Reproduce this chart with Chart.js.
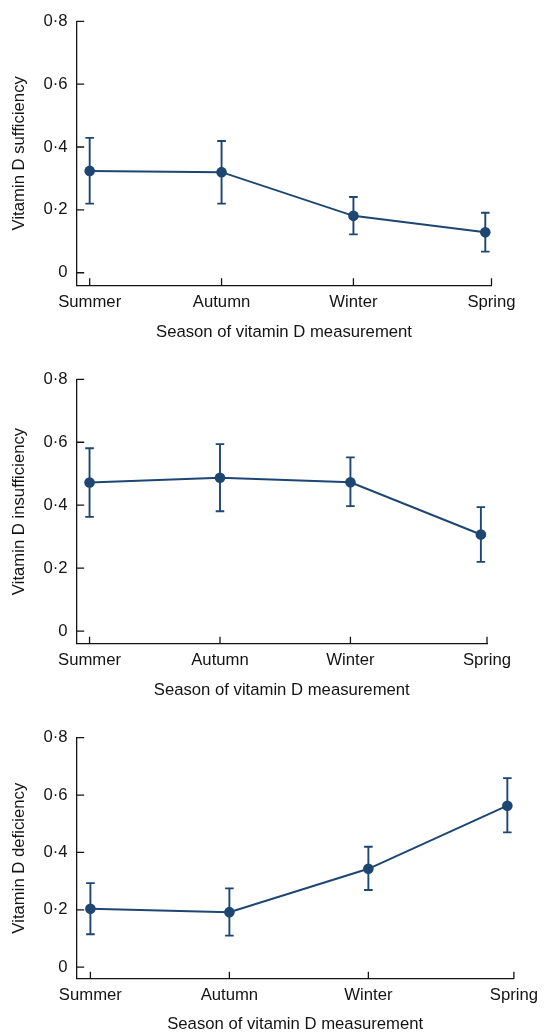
<!DOCTYPE html>
<html><head><meta charset="utf-8">
<script src="https://cdn.jsdelivr.net/npm/chart.js@4.4.1/dist/chart.umd.min.js"></script>
<style>
html,body{margin:0;padding:0;background:#fff;overflow:hidden;width:545px;height:1032px;}
.p{position:absolute;left:0;width:545px;}
</style></head><body>
<div class="p" style="top:0px;height:342px"><canvas id="c1"></canvas></div>
<div class="p" style="top:350px;height:350px"><canvas id="c2"></canvas></div>
<div class="p" style="top:700px;height:334px"><canvas id="c3"></canvas></div>
<script>
const categories = ['Summer', 'Autumn', 'Winter', 'Spring'];
const yTickValues = [0, 0.2, 0.4, 0.6, 0.8];
const yTickLabels = ['0', '0·2', '0·4', '0·6', '0·8'];
const xTitle = 'Season of vitamin D measurement';

const sufficiencyMean  = [0.324, 0.320, 0.181, 0.129];
const sufficiencyLower = [0.220, 0.220, 0.122, 0.067];
const sufficiencyUpper = [0.429, 0.419, 0.241, 0.191];

const insufficiencyMean  = [0.472, 0.487, 0.473, 0.307];
const insufficiencyLower = [0.363, 0.381, 0.397, 0.220];
const insufficiencyUpper = [0.581, 0.594, 0.552, 0.394];

const deficiencyMean  = [0.204, 0.192, 0.343, 0.563];
const deficiencyLower = [0.115, 0.110, 0.269, 0.470];
const deficiencyUpper = [0.293, 0.275, 0.420, 0.659];

const NAVY = '#1d4672';
const INK = '#141414';
const FONT = '"Liberation Sans", Arial, Helvetica, sans-serif';
const FS = 16.7;

const errorBars = {
  id: 'errorBars',
  beforeDatasetsDraw(chart, args, opts) {
    const ctx = chart.ctx, xs = chart.scales.x, ys = chart.scales.y;
    ctx.save();
    ctx.strokeStyle = NAVY; ctx.lineWidth = 1.9;
    opts.lower.forEach((lo, i) => {
      const x = xs.getPixelForValue(i);
      const y1 = ys.getPixelForValue(lo), y2 = ys.getPixelForValue(opts.upper[i]);
      ctx.beginPath();
      ctx.moveTo(x, y1); ctx.lineTo(x, y2);
      ctx.moveTo(x - 4.3, y1); ctx.lineTo(x + 4.3, y1);
      ctx.moveTo(x - 4.3, y2); ctx.lineTo(x + 4.3, y2);
      ctx.stroke();
    });
    ctx.restore();
  }
};

const innerTicks = {
  id: 'innerTicks',
  afterDraw(chart) {
    const ctx = chart.ctx, xs = chart.scales.x, ys = chart.scales.y, a = chart.chartArea;
    ctx.save();
    ctx.strokeStyle = INK; ctx.lineWidth = 1.3;
    ctx.beginPath();
    ys.ticks.forEach(t => { const y = ys.getPixelForValue(t.value); ctx.moveTo(a.left, y); ctx.lineTo(a.left + 7.7, y); });
    xs.ticks.forEach(t => { const x = xs.getPixelForValue(t.value); ctx.moveTo(x, a.bottom); ctx.lineTo(x, a.bottom - 7); });
    ctx.stroke();
    ctx.restore();
  }
};

function makePanel(id, yTitle, mean, lower, upper, lay) {
  new Chart(document.getElementById(id), {
    type: 'line',
    data: { datasets: [{
      data: mean.map((v, i) => ({ x: i, y: v })),
      borderColor: NAVY, backgroundColor: NAVY, borderWidth: 2,
      pointRadius: 5.3, pointHoverRadius: 5.3, pointBorderWidth: 0, tension: 0
    }]},
    options: {
      responsive: true, maintainAspectRatio: false, animation: false,
      events: [],
      layout: { autoPadding: false, padding: { top: lay.top, right: lay.right, left: 0, bottom: 0 } },
      plugins: { legend: { display: false }, tooltip: { enabled: false },
        errorBars: { lower, upper } },
      scales: {
        x: {
          type: 'linear', min: -0.1, max: 3.047,
          afterFit: s => { s.height = lay.xh; },
          afterBuildTicks: s => { s.ticks = categories.map((c, i) => ({ value: i === categories.length - 1 ? s.max : i })); },
          ticks: { autoSkip: false, maxRotation: 0, padding: 7, color: INK, font: { family: FONT, size: FS },
                   callback: (v, i) => categories[i] },
          grid: { drawOnChartArea: false, drawTicks: false },
          border: { display: true, color: INK, width: 1.3 },
          title: { display: true, text: xTitle, color: INK, font: { family: FONT, size: FS }, padding: { top: 0, bottom: 0 } }
        },
        y: {
          type: 'linear', min: -0.04, max: 0.8,
          afterFit: s => { s.width = 76.5; },
          afterBuildTicks: s => { s.ticks = yTickValues.map(v => ({ value: v })); },
          ticks: { padding: 9, color: INK, font: { family: FONT, size: FS },
                   callback: (v, i) => yTickLabels[i] },
          grid: { drawOnChartArea: false, drawTicks: false },
          border: { display: true, color: INK, width: 1.3 },
          title: { display: true, text: yTitle, color: INK, font: { family: FONT, size: FS }, padding: { top: 9, bottom: 0 } }
        }
      }
    },
    plugins: [errorBars, innerTicks]
  });
}

makePanel('c1', 'Vitamin D sufficiency', sufficiencyMean, sufficiencyLower, sufficiencyUpper, { top: 21.3, right: 53.5, xh: 56.7 });
makePanel('c2', 'Vitamin D insufficiency', insufficiencyMean, insufficiencyLower, insufficiencyUpper, { top: 29.3, right: 58, xh: 56.3 });
makePanel('c3', 'Vitamin D deficiency', deficiencyMean, deficiencyLower, deficiencyUpper, { top: 37.7, right: 26, xh: 55.3 });
</script>
</body></html>
